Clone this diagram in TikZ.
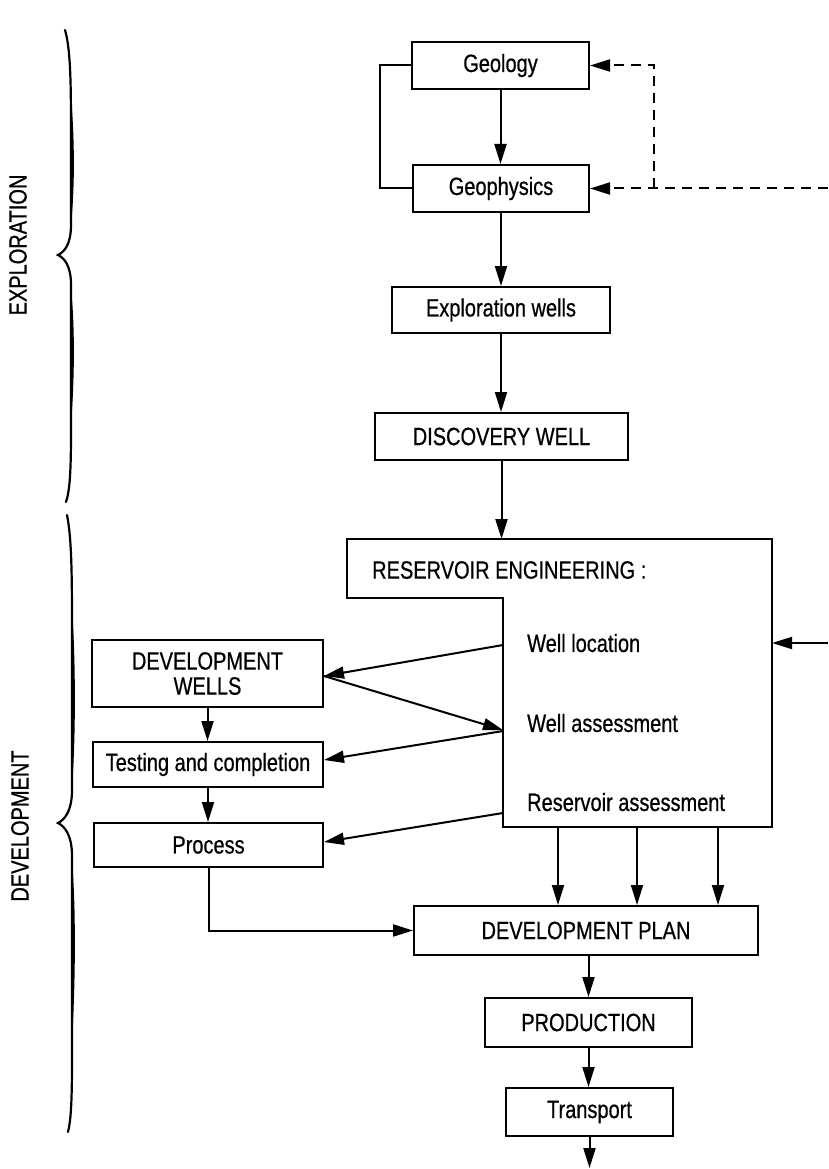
\documentclass[tikz,border=0pt]{standalone}
\usepackage{fontspec}
\setmainfont{Liberation Sans}[FakeStretch=0.8, FakeBold=0.6]
\usetikzlibrary{arrows.meta}
\tikzset{
  box/.style={draw, line width=2pt, inner sep=0pt, align=center,
    font=\fontsize{25}{25}\selectfont},
  lbl/.style={inner sep=0pt, font=\fontsize{25}{25}\selectfont},
  conn/.style={line width=2pt, -{Triangle[length=20pt,width=12pt]}},
  plainline/.style={line width=2pt},
  dashline/.style={line width=2pt, dash pattern=on 10pt off 7pt},
  bracestyle/.style={line width=2.2pt, line cap=round}
}
\begin{document}
\begin{tikzpicture}[x=1pt,y=-1pt]
\useasboundingbox (0,0) rectangle (828,1169);

% boxes
\node[box, minimum width=177pt, minimum height=47pt] (geo) at (500.5,65.5) {Geology};
\node[box, minimum width=176pt, minimum height=47pt] (geoph) at (501,188.5) {Geophysics};
\node[box, minimum width=218pt, minimum height=46pt] (expl) at (501,310) {Exploration wells};
\node[box, minimum width=253pt, minimum height=47pt] (disc) at (501.5,436.5) {DISCOVERY WELL};
\node[box, minimum width=231pt, minimum height=67pt] (dw) at (207.5,673.5) {DEVELOPMENT\\WELLS};
\node[box, minimum width=230pt, minimum height=45pt] (test) at (208,764.5) {Testing and completion};
\node[box, minimum width=229pt, minimum height=44pt] (proc) at (208.5,845) {Process};
\node[box, minimum width=344pt, minimum height=49pt] (dp) at (586,930.5) {DEVELOPMENT PLAN};
\node[box, minimum width=207pt, minimum height=49pt] (prod) at (588.5,1022.5) {PRODUCTION};
\node[box, minimum width=167pt, minimum height=48pt] (trans) at (589.5,1112) {Transport};

% reservoir engineering (L-shaped box)
\draw[plainline] (347,539) -- (772,539) -- (772,827) -- (503,827) -- (503,598) -- (347,598) -- cycle;
\node[lbl, anchor=west] (resT) at (372,570) {RESERVOIR ENGINEERING :};
\node[lbl, anchor=west] (wl) at (527,643) {Well location};
\node[lbl, anchor=west] (wa) at (527,723) {Well assessment};
\node[lbl, anchor=west] (ra) at (527,802) {Reservoir assessment};

\coordinate (resTop) at (501.5,539);
\coordinate (resR) at (772,643);
\coordinate (inR) at (828,643);
\coordinate (resWL) at (503,645);
\coordinate (resWA) at (503,730);
\coordinate (resWA2) at (503,731);
\coordinate (resRA) at (503,813);
\coordinate (resB1) at (558,827);
\coordinate (resB2) at (637,827);
\coordinate (resB3) at (718,827);
\coordinate (dashR) at (828,188.5);
\coordinate (dashJ) at (654,188.5);
\coordinate (loopL) at (380,65.5);
\coordinate (outEnd) at (589.5,1168);

% connectors top
\draw[conn] (geo.south) -- (geo.south |- geoph.north);
\draw[conn] (geoph.south) -- (geoph.south |- expl.north);
\draw[conn] (expl.south) -- (expl.south |- disc.north);
\draw[conn] (disc.south) -- (resTop);
\draw[plainline] (geo.west) -- (loopL) |- (geoph.west);
\draw[dashline, -{Triangle[length=20pt,width=12pt]}] (dashR) -- (geoph.east);
\draw[dashline, -{Triangle[length=20pt,width=12pt]}] (dashJ) |- (geo.east);

% reservoir connectors
\draw[conn] (inR) -- (resR);
\draw[conn] (resWL) -- ([yshift=-2.5pt]dw.east);
\draw[conn] ([yshift=-2.5pt]dw.east) -- (resWA);
\draw[conn] (resWA2) -- ([yshift=4.5pt]test.east);
\draw[conn] (resRA) -- ([yshift=3pt]proc.east);
\draw[conn] (resB1) -- (resB1 |- dp.north);
\draw[conn] (resB2) -- (resB2 |- dp.north);
\draw[conn] (resB3) -- (resB3 |- dp.north);

% left column
\draw[conn] (dw.south) -- (dw.south |- test.north);
\draw[conn] (test.south) -- (test.south |- proc.north);
\draw[conn] (proc.south) |- (dp.west);

% bottom
\draw[conn] (dp.south -| prod.north) -- (prod.north);
\draw[conn] (prod.south) -- (prod.south |- trans.north);
\draw[conn] (trans.south) -- (outEnd);

% braces
\draw[bracestyle] (65,30) .. controls (71,50) and (71,90) .. (71,140) -- (71,225)
  .. controls (71,245) and (64,252) .. (58,255)
  .. controls (64,258) and (71,265) .. (71,285) -- (71,430)
  .. controls (71,470) and (70,490) .. (66,502);
\fill (70.5,90) .. controls (75,140) and (75,190) .. (70.5,230) -- cycle;
\fill (70.5,285) .. controls (75,320) and (75,380) .. (70.5,430) -- cycle;
\draw[bracestyle] (67,515) .. controls (72,540) and (72,580) .. (72,640) -- (72,790)
  .. controls (72,812) and (64,820) .. (58,823)
  .. controls (64,826) and (72,834) .. (72,856) -- (72,1060)
  .. controls (72,1100) and (71,1120) .. (68,1132);
\fill (71.5,600) .. controls (76,660) and (76,740) .. (71.5,795) -- cycle;
\fill (71.5,856) .. controls (76,900) and (76,980) .. (71.5,1050) -- cycle;

% side labels
\node[lbl, rotate=90] (explab) at (18,245) {EXPLORATION};
\node[lbl, rotate=90] (devlab) at (20,826) {DEVELOPMENT};
\end{tikzpicture}
\end{document}
